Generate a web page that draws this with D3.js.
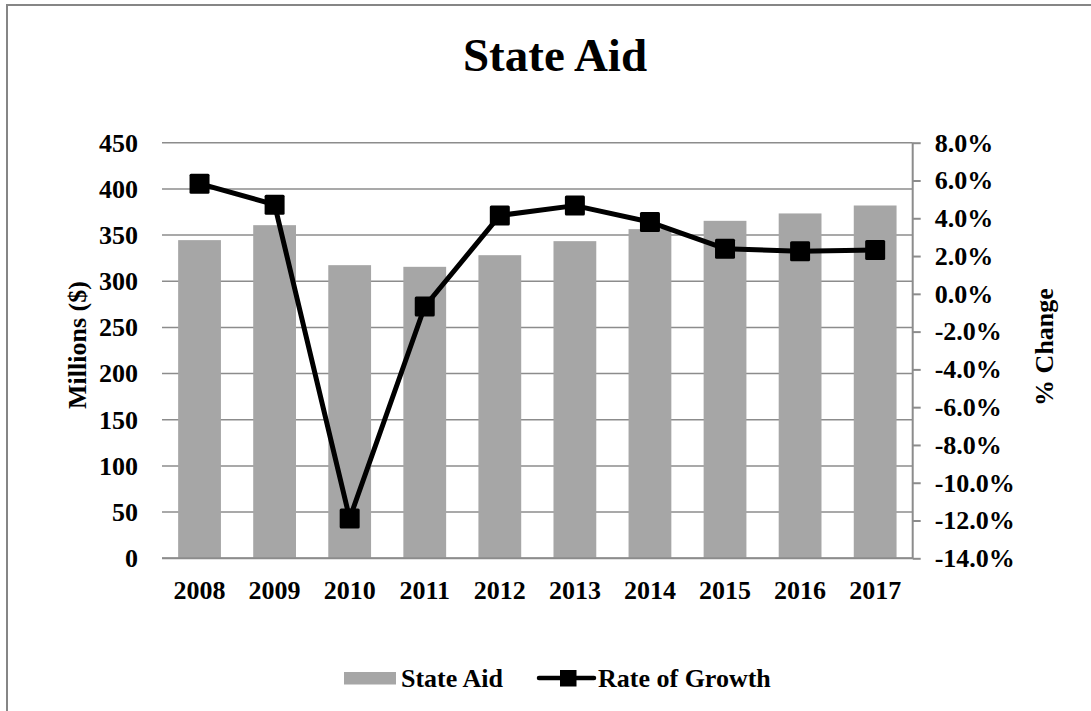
<!DOCTYPE html>
<html><head><meta charset="utf-8">
<script src="https://cdn.jsdelivr.net/npm/d3@7"></script>
<style>html,body{margin:0;padding:0;background:#fff;}svg{display:block;}</style>
</head><body>
<svg id="c" width="1091" height="711"></svg>
<script>
const years = ["2008","2009","2010","2011","2012","2013","2014","2015","2016","2017"];
const stateAid = [344.5, 360.7, 317.4, 315.6, 328.2, 343.4, 356.4, 365.4, 373.4, 382.0];
const growth = [5.83, 4.72, -11.89, -0.67, 4.15, 4.67, 3.80, 2.39, 2.26, 2.32];
const leftTicks = [0,50,100,150,200,250,300,350,400,450];
const rightTicks = [-14,-12,-10,-8,-6,-4,-2,0,2,4,6,8];
const title = "State Aid";
const leftTitle = "Millions ($)";
const rightTitle = "% Change";
const seriesNames = ["State Aid","Rate of Growth"];

const svg = d3.select("#c");
const font = "'Liberation Serif','Times New Roman',serif";
const fs = 26;
const L = 162, R = 912.7, T = 142.7, B = 558.3;

svg.append("rect").attr("x",7).attr("y",5).attr("width",1200).attr("height",800)
  .attr("fill","none").attr("stroke","#868686").attr("stroke-width",2);

const x = d3.scaleBand().domain(years).range([L,R]).paddingInner(0.43).paddingOuter(0.215);
const yL = d3.scaleLinear().domain([0,450]).range([B,T]);
const yR = d3.scaleLinear().domain([-14,8]).range([B,T]);

// gridlines
svg.append("g").selectAll("line").data(leftTicks).join("line")
  .attr("x1",L).attr("x2",R).attr("y1",d=>yL(d)).attr("y2",d=>yL(d))
  .attr("stroke","#8c8c8c").attr("stroke-width",1.5);

// bars
svg.append("g").selectAll("rect").data(years).join("rect")
  .attr("x",d=>x(d)).attr("width",x.bandwidth())
  .attr("y",(d,i)=>yL(stateAid[i])).attr("height",(d,i)=>B-yL(stateAid[i]))
  .attr("fill","#a6a6a6");

// baseline
svg.append("line").attr("x1",L).attr("x2",R).attr("y1",B).attr("y2",B)
  .attr("stroke","#8c8c8c").attr("stroke-width",2);

// left axis labels
const gl = svg.append("g").attr("transform",`translate(${L},0)`)
  .call(d3.axisLeft(yL).tickValues(leftTicks).tickSize(0).tickPadding(24).tickFormat(d3.format("d")));
gl.select(".domain").remove();
gl.selectAll("text").attr("font-family",font).attr("font-weight","bold").attr("font-size",fs).attr("fill","#000");

// right axis
const gr = svg.append("g").attr("transform",`translate(${R},0)`)
  .call(d3.axisRight(yR).tickValues(rightTicks).tickSize(8).tickPadding(14).tickFormat(d=>d.toFixed(1)+"%"));
gr.select(".domain").attr("stroke","#8c8c8c").attr("stroke-width",2).attr("d",`M0,${T}V${B}`);
gr.selectAll(".tick line").attr("stroke","#8c8c8c").attr("stroke-width",2);
gr.selectAll("text").attr("font-family",font).attr("font-weight","bold").attr("font-size",fs).attr("fill","#000");

// x axis labels
const gx = svg.append("g").attr("transform",`translate(0,${B})`)
  .call(d3.axisBottom(x).tickSize(0).tickPadding(22));
gx.select(".domain").remove();
gx.selectAll("text").attr("font-family",font).attr("font-weight","bold").attr("font-size",fs).attr("fill","#000");

// line
const pts = years.map((d,i)=>[x(d)+x.bandwidth()/2, yR(growth[i])]);
svg.append("path").attr("d",d3.line()(pts)).attr("fill","none").attr("stroke","#000")
  .attr("stroke-width",5).attr("stroke-linejoin","round");
svg.append("g").selectAll("rect").data(pts).join("rect")
  .attr("x",d=>d[0]-10).attr("y",d=>d[1]-10).attr("width",20).attr("height",20)
  .attr("rx",1.5).attr("fill","#000");

// title
svg.append("text").attr("x",555).attr("y",71).attr("text-anchor","middle")
  .attr("font-family",font).attr("font-weight","bold").attr("font-size",47).text(title);

// axis titles
svg.append("text").attr("transform","translate(86,345) rotate(-90)").attr("text-anchor","middle")
  .attr("font-family",font).attr("font-weight","bold").attr("font-size",fs).text(leftTitle);
svg.append("text").attr("transform","translate(1053,347) rotate(-90)").attr("text-anchor","middle")
  .attr("font-family",font).attr("font-weight","bold").attr("font-size",fs).text(rightTitle);

// legend
const lg = svg.append("g");
lg.append("rect").attr("x",344).attr("y",672).attr("width",52).attr("height",12.5).attr("fill","#a6a6a6");
lg.append("text").attr("x",401).attr("y",687).attr("font-family",font).attr("font-weight","bold")
  .attr("font-size",fs).text(seriesNames[0]);
lg.append("line").attr("x1",539).attr("x2",594).attr("y1",678).attr("y2",678)
  .attr("stroke","#000").attr("stroke-width",4.5).attr("stroke-linecap","round");
lg.append("rect").attr("x",560).attr("y",670).attr("width",16.5).attr("height",16.5).attr("fill","#000");
lg.append("text").attr("x",598).attr("y",687).attr("font-family",font).attr("font-weight","bold")
  .attr("font-size",fs).text(seriesNames[1]);
</script>
</body></html>
